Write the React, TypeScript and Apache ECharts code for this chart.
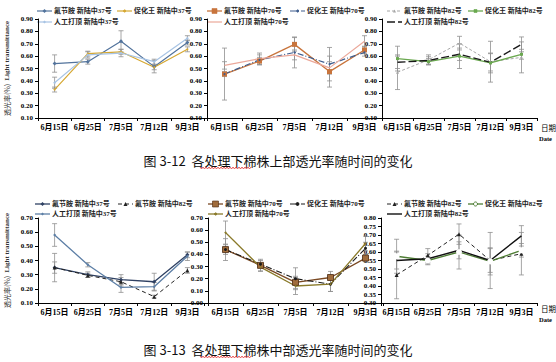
import React, { useEffect, useRef } from 'react';
import * as echarts from 'echarts';

// ---------- data ----------
const dates = ['6月15日', '6月25日', '7月5日', '7月12日', '9月3日'];

// upper canopy (图 3-12)
const up37Flu = [0.54, 0.555, 0.72, 0.515, 0.71];
const up37FluErr = [0.07, 0.02, 0.085, 0.05, 0.02];
const up37Cuh = [0.33, 0.62, 0.635, 0.51, 0.655];
const up37CuhErr = [0.02, 0.02, 0.02, 0.02, 0.02];
const up37Man = [0.385, 0.61, 0.625, 0.555, 0.745];
const up37ManErr = [0.045, 0.025, 0.03, 0.02, 0.02];

const up70Flu = [0.455, 0.56, 0.695, 0.475, 0.65];
const up70FluErr = [0.21, 0.03, 0.055, 0.125, 0.03];
const up70Cuh = [0.455, 0.57, 0.63, 0.535, 0.63];
const up70CuhErr = [0.02, 0.04, 0.125, 0.135, 0.03];
const up70Man = [0.525, 0.58, 0.61, 0.505, 0.72];
const up70ManErr = [0.03, 0.045, 0.04, 0.05, 0.045];

const up82Flu = [0.47, 0.57, 0.705, 0.555, 0.59];
const up82FluErr = [0.14, 0.04, 0.055, 0.165, 0.125];
const up82Cuh = [0.58, 0.555, 0.6, 0.545, 0.615];
const up82CuhErr = [0.1, 0.025, 0.1, 0.08, 0.04];
const up82Man = [0.55, 0.565, 0.615, 0.55, 0.695];
const up82ManErr = [0.05, 0.03, 0.05, 0.07, 0.06];

// middle canopy (图 3-13)
const mid37Flu = [0.35, 0.3, 0.265, 0.25, 0.44];
const mid37FluErr = [0.1, 0.02, 0.035, 0.06, 0.02];
const mid82FluB = [0.35, 0.295, 0.25, 0.145, 0.33];
const mid82FluBErr = [0.04, 0.015, 0.03, 0.01, 0.02];
const mid37Man = [0.58, 0.37, 0.21, 0.215, 0.43];
const mid37ManErr = [0.08, 0.015, 0.035, 0.03, 0.03];

const mid70Flu = [0.44, 0.31, 0.17, 0.21, 0.37];
const mid70FluErr = [0.09, 0.05, 0.05, 0.05, 0.03];
const mid70Cuh = [0.44, 0.32, 0.2, 0.155, 0.45];
const mid70CuhErr = [0.04, 0.03, 0.09, 0.06, 0.05];
const mid70Man = [0.58, 0.295, 0.14, 0.155, 0.49];
const mid70ManErr = [0.095, 0.03, 0.07, 0.06, 0.06];

const mid82Flu = [0.465, 0.58, 0.705, 0.55, 0.59];
const mid82FluErr = [0.14, 0.04, 0.06, 0.165, 0.125];
const mid82Cuh = [0.575, 0.55, 0.6, 0.545, 0.61];
const mid82CuhErr = [0.1, 0.025, 0.1, 0.08, 0.04];
const mid82Man = [0.55, 0.56, 0.61, 0.55, 0.695];
const mid82ManErr = [0.05, 0.03, 0.05, 0.07, 0.06];

const yTicksUpper = { min: 0.1, max: 0.9, interval: 0.1 };
const yTicksMid37 = { min: 0.1, max: 0.7, interval: 0.1 };
const yTicksMid70 = { min: 0, max: 0.7, interval: 0.1 };
const yTicksMid82 = { min: 0.3, max: 0.8, interval: 0.05 };

const caption1 = '图 3-12  各处理下棉株上部透光率随时间的变化';
const caption2 = '图 3-13  各处理下棉株中部透光率随时间的变化';

// ---------- styles ----------
const SERIF = '"Liberation Serif", "Times New Roman", "Noto Sans CJK SC", serif';
const SANS = '"Noto Sans CJK SC", "Noto Sans", sans-serif';

type Sty = {
  color: string;
  width: number;
  dash?: any;
  symbol: string;
  size: number;
  fill?: string;
  border?: string;
};

type Ser = { name: string; values: number[]; errors: number[]; sty: Sty };
type Panel = {
  grid: { left: number; top: number; width: number; height: number };
  y: { min: number; max: number; interval: number };
  series: Ser[];
  legend: { x: number; y: number; idx: number }[];
  showName: boolean;
};

const panels: Panel[] = [
  {
    grid: { left: 35, top: 19, width: 169, height: 99 },
    y: yTicksUpper,
    showName: true,
    series: [
      { name: '氟节胺 新陆中37号', values: up37Flu, errors: up37FluErr, sty: { color: '#52739c', width: 1.2, symbol: 'diamond', size: 4 } },
      { name: '促化王 新陆中37号', values: up37Cuh, errors: up37CuhErr, sty: { color: '#d6a832', width: 1.2, symbol: 'circle', size: 2 } },
      { name: '人工打顶 新陆中37号', values: up37Man, errors: up37ManErr, sty: { color: '#a8c4e4', width: 1.2, symbol: 'diamond', size: 3 } },
    ],
    legend: [
      { x: 37, y: 11, idx: 0 },
      { x: 117, y: 11, idx: 1 },
      { x: 37, y: 22, idx: 2 },
    ],
  },
  {
    grid: { left: 207, top: 19, width: 175, height: 99 },
    y: yTicksUpper,
    showName: false,
    series: [
      { name: '氟节胺 新陆中70号', values: up70Flu, errors: up70FluErr, sty: { color: '#c8743c', width: 1.3, symbol: 'rect', size: 5 } },
      { name: '促化王 新陆中70号', values: up70Cuh, errors: up70CuhErr, sty: { color: '#3e5d8e', width: 1.2, dash: [6, 2, 1, 2], symbol: 'circle', size: 2 } },
      { name: '人工打顶 新陆中70号', values: up70Man, errors: up70ManErr, sty: { color: '#eba89a', width: 1.2, symbol: 'none', size: 0 } },
    ],
    legend: [
      { x: 207, y: 11, idx: 0 },
      { x: 290, y: 11, idx: 1 },
      { x: 207, y: 22, idx: 2 },
    ],
  },
  {
    grid: { left: 382, top: 19, width: 155, height: 99 },
    y: yTicksUpper,
    showName: false,
    series: [
      { name: '氟节胺 新陆中82号', values: up82Flu, errors: up82FluErr, sty: { color: '#a6a6a6', width: 1, dash: [3, 2], symbol: 'triangle', size: 3 } },
      { name: '促化王 新陆中82号', values: up82Cuh, errors: up82CuhErr, sty: { color: '#6aa84f', width: 1.3, symbol: 'rect', size: 3 } },
      { name: '人工打顶 新陆中82号', values: up82Man, errors: up82ManErr, sty: { color: '#1a1a1a', width: 1.4, dash: [8, 3], symbol: 'none', size: 0 } },
    ],
    legend: [
      { x: 387, y: 11, idx: 0 },
      { x: 468, y: 11, idx: 1 },
      { x: 387, y: 22, idx: 2 },
    ],
  },
  {
    grid: { left: 35, top: 218, width: 169, height: 85 },
    y: yTicksMid37,
    showName: true,
    series: [
      { name: '氟节胺 新陆中37号', values: mid37Flu, errors: mid37FluErr, sty: { color: '#2f4163', width: 1.3, symbol: 'diamond', size: 4 } },
      { name: '氟节胺 新陆中82号', values: mid82FluB, errors: mid82FluBErr, sty: { color: '#222222', width: 1, dash: [4, 3], symbol: 'triangle', size: 4 } },
      { name: '人工打顶 新陆中37号', values: mid37Man, errors: mid37ManErr, sty: { color: '#5d7fa6', width: 1.3, symbol: 'diamond', size: 3 } },
    ],
    legend: [
      { x: 35, y: 204, idx: 0 },
      { x: 118, y: 204, idx: 1 },
      { x: 35, y: 214, idx: 2 },
    ],
  },
  {
    grid: { left: 208, top: 218, width: 175, height: 85 },
    y: yTicksMid70,
    showName: false,
    series: [
      { name: '氟节胺 新陆中70号', values: mid70Flu, errors: mid70FluErr, sty: { color: '#7b4a24', width: 1.3, symbol: 'rect', size: 6, fill: '#a06c3c', border: '#4a2a10' } },
      { name: '促化王 新陆中70号', values: mid70Cuh, errors: mid70CuhErr, sty: { color: '#1a1a1a', width: 1.1, dash: [6, 2, 1, 2], symbol: 'circle', size: 3 } },
      { name: '人工打顶 新陆中70号', values: mid70Man, errors: mid70ManErr, sty: { color: '#8a7a2a', width: 1.3, symbol: 'circle', size: 2 } },
    ],
    legend: [
      { x: 208, y: 204, idx: 0 },
      { x: 290, y: 204, idx: 1 },
      { x: 208, y: 214, idx: 2 },
    ],
  },
  {
    grid: { left: 381, top: 218, width: 156, height: 85 },
    y: yTicksMid82,
    showName: false,
    series: [
      { name: '氟节胺 新陆中82号', values: mid82Flu, errors: mid82FluErr, sty: { color: '#222222', width: 1, dash: [4, 3], symbol: 'triangle', size: 4 } },
      { name: '促化王 新陆中82号', values: mid82Cuh, errors: mid82CuhErr, sty: { color: '#4e7d34', width: 1.3, symbol: 'emptyCircle', size: 4 } },
      { name: '人工打顶 新陆中82号', values: mid82Man, errors: mid82ManErr, sty: { color: '#111111', width: 1.4, symbol: 'none', size: 0 } },
    ],
    legend: [
      { x: 387, y: 204, idx: 0 },
      { x: 468, y: 204, idx: 1 },
      { x: 387, y: 214, idx: 2 },
    ],
  },
];

function legendItem(x: number, y: number, label: string, s: Sty): any[] {
  const els: any[] = [
    {
      type: 'line',
      shape: { x1: x, y1: y, x2: x + 15, y2: y },
      style: { stroke: s.color, lineWidth: s.width, lineDash: s.dash || null },
    },
  ];
  const cx = x + 7.5;
  const r = Math.max(s.size, 2) / 2;
  if (s.symbol === 'rect') {
    els.push({ type: 'rect', shape: { x: cx - r, y: y - r, width: 2 * r, height: 2 * r }, style: { fill: s.fill || s.color, stroke: s.border || s.color, lineWidth: 0.6 } });
  } else if (s.symbol === 'circle' || s.symbol === 'emptyCircle') {
    els.push({ type: 'circle', shape: { cx, cy: y, r }, style: { fill: s.symbol === 'emptyCircle' ? '#fff' : s.color, stroke: s.color, lineWidth: 1 } });
  } else if (s.symbol === 'triangle') {
    els.push({ type: 'polygon', shape: { points: [[cx, y - r], [cx + r, y + r], [cx - r, y + r]] }, style: { fill: s.color } });
  } else if (s.symbol === 'diamond') {
    els.push({ type: 'polygon', shape: { points: [[cx, y - r], [cx + r, y], [cx, y + r], [cx - r, y]] }, style: { fill: s.color } });
  }
  els.push({
    type: 'text',
    x: x + 17,
    y,
    style: { text: label, fontSize: 7, fontFamily: SERIF, fontWeight: 'bold', fill: '#222', textVerticalAlign: 'middle', verticalAlign: 'middle' },
  });
  return els;
}

function wavy(x0: number, x1: number, y: number): number[][] {
  const pts: number[][] = [];
  let k = 0;
  for (let x = x0; x <= x1; x += 1.5) {
    pts.push([x, k % 2 === 0 ? y - 1 : y + 1]);
    k++;
  }
  return pts;
}

export default function App() {
  const ref = useRef<HTMLDivElement>(null);
  useEffect(() => {
    if (!ref.current) return;
    const chart = echarts.init(ref.current, undefined, { renderer: 'svg' });

    const grid = panels.map((p) => ({ ...p.grid, containLabel: false }));
    const xAxis = panels.map((p, i) => ({
      type: 'category',
      gridIndex: i,
      data: dates,
      boundaryGap: true,
      axisLine: { lineStyle: { color: '#000', width: 1 } },
      axisTick: { show: true, length: 3, lineStyle: { color: '#000' } },
      axisLabel: { interval: 0, fontSize: 8, fontWeight: 'bold', fontFamily: SERIF, color: '#000', margin: 5 },
    }));
    const yAxis = panels.map((p, i) => ({
      type: 'value',
      gridIndex: i,
      min: p.y.min,
      max: p.y.max,
      interval: p.y.interval,
      axisLine: { show: true, lineStyle: { color: '#000', width: 1 } },
      axisTick: { show: true, length: 3, lineStyle: { color: '#000' } },
      splitLine: { show: false },
      axisLabel: {
        formatter: (v: number) => v.toFixed(2),
        fontSize: 7,
        fontWeight: 'bold',
        fontFamily: SERIF,
        color: '#000',
        margin: 5,
      },
      name: p.showName ? '{a|透光率(%)} {b|Light transmittance}' : '',
      nameLocation: 'middle',
      nameRotate: 90,
      nameGap: 25,
      nameTextStyle: {
        rich: {
          a: { fontSize: 7, fontFamily: SANS, color: '#333' },
          b: { fontSize: 7, fontFamily: SERIF, fontWeight: 'bold', color: '#333' },
        },
      },
    }));

    const series: any[] = [];
    panels.forEach((p, i) => {
      p.series.forEach((s) => {
        series.push({
          type: 'custom',
          xAxisIndex: i,
          yAxisIndex: i,
          silent: true,
          z: 1,
          data: s.values.map((v, k) => [k, v - s.errors[k], v + s.errors[k]]),
          encode: { x: 0, y: [1, 2] },
          renderItem: (_params: any, api: any) => {
            const k = api.value(0);
            const lo = api.coord([k, api.value(1)]);
            const hi = api.coord([k, api.value(2)]);
            const c = 2.5;
            const st = { stroke: '#8f8f8f', lineWidth: 0.8 };
            return {
              type: 'group',
              children: [
                { type: 'line', shape: { x1: lo[0], y1: lo[1], x2: hi[0], y2: hi[1] }, style: st },
                { type: 'line', shape: { x1: lo[0] - c, y1: lo[1], x2: lo[0] + c, y2: lo[1] }, style: st },
                { type: 'line', shape: { x1: hi[0] - c, y1: hi[1], x2: hi[0] + c, y2: hi[1] }, style: st },
              ],
            };
          },
        });
      });
      p.series.forEach((s) => {
        series.push({
          type: 'line',
          name: s.name,
          xAxisIndex: i,
          yAxisIndex: i,
          data: s.values,
          z: 3,
          symbol: s.sty.symbol,
          symbolSize: s.sty.size,
          showSymbol: s.sty.symbol !== 'none',
          lineStyle: { color: s.sty.color, width: s.sty.width, type: s.sty.dash || 'solid' },
          itemStyle: {
            color: s.sty.symbol === 'emptyCircle' ? '#fff' : s.sty.fill || s.sty.color,
            borderColor: s.sty.border || s.sty.color,
            borderWidth: s.sty.symbol === 'emptyCircle' ? 1 : s.sty.border ? 0.8 : 0,
          },
        });
      });
    });

    const graphic: any[] = [];
    panels.forEach((p) => {
      p.legend.forEach((l) => {
        const s = p.series[l.idx];
        graphic.push(...legendItem(l.x, l.y, s.name, s.sty));
      });
    });
    const dateLabel = (y: number) => [
      { type: 'text', x: 541, y, style: { text: '日期', fontSize: 7.5, fontFamily: SERIF, fill: '#000', textVerticalAlign: 'middle', verticalAlign: 'middle' } },
      { type: 'text', x: 539, y: y + 10, style: { text: 'Date', fontSize: 6.5, fontFamily: SERIF, fontWeight: 'bold', fill: '#000', textVerticalAlign: 'middle', verticalAlign: 'middle' } },
    ];
    graphic.push(...dateLabel(128), ...dateLabel(309));
    graphic.push(
      { type: 'text', x: 278, y: 160, style: { text: caption1, fontSize: 13, fontFamily: SANS, fill: '#111', textAlign: 'center', align: 'center', textVerticalAlign: 'middle', verticalAlign: 'middle' } },
      { type: 'text', x: 278, y: 349, style: { text: caption2, fontSize: 13, fontFamily: SANS, fill: '#111', textAlign: 'center', align: 'center', textVerticalAlign: 'middle', verticalAlign: 'middle' } },
      { type: 'polyline', shape: { points: wavy(200, 252, 168) }, style: { stroke: '#e02020', lineWidth: 0.7, fill: null } },
      { type: 'polyline', shape: { points: wavy(200, 252, 357) }, style: { stroke: '#e02020', lineWidth: 0.7, fill: null } },
    );

    chart.setOption({
      animation: false,
      backgroundColor: '#fff',
      grid,
      xAxis,
      yAxis,
      series,
      graphic,
    });
    return () => chart.dispose();
  }, []);
  return (
    <div
      ref={ref}
      style={{ position: 'fixed', left: 0, top: 0, width: 556, height: 362, background: '#fff' }}
    />
  );
}
